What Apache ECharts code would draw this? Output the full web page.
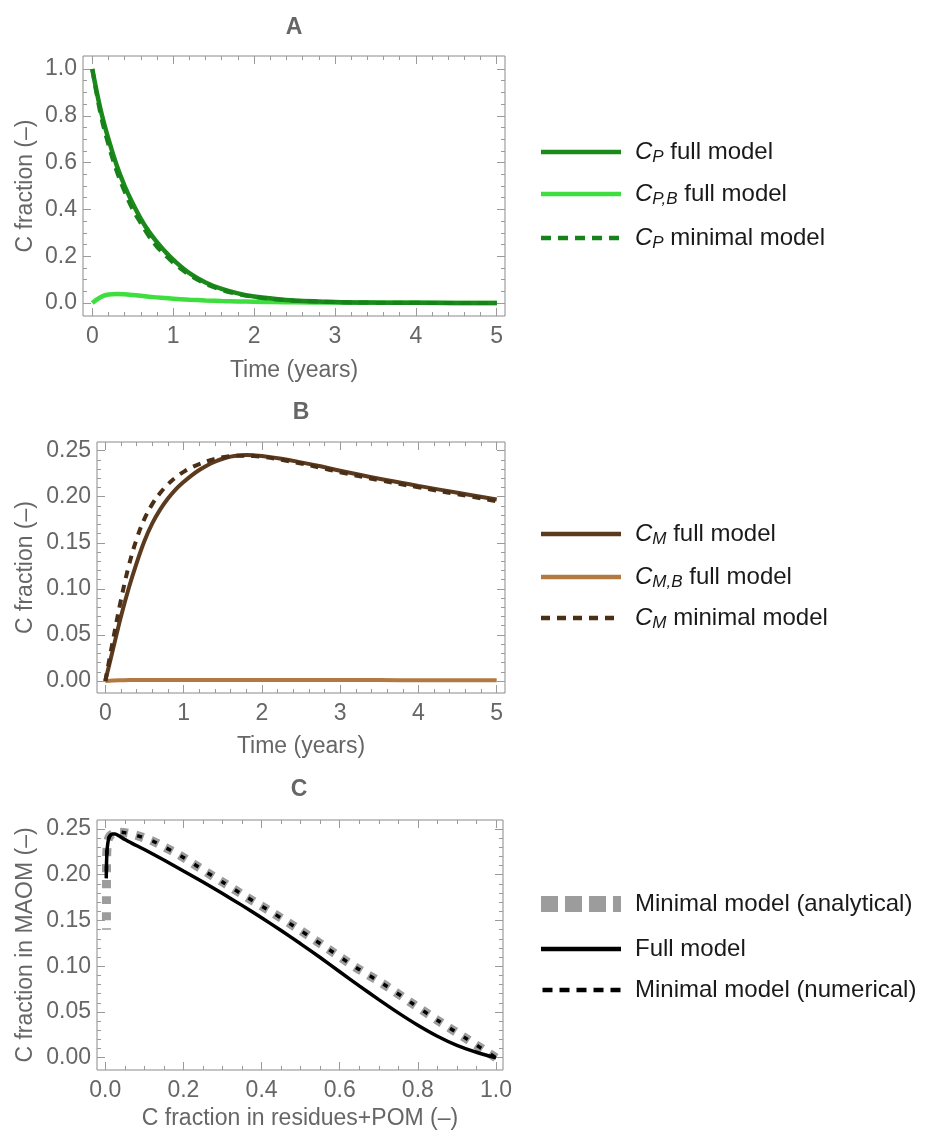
<!DOCTYPE html>
<html><head><meta charset="utf-8">
<script src="https://cdn.jsdelivr.net/npm/echarts@6/dist/echarts.min.js"></script>
<style>html,body{margin:0;padding:0;background:#fff}#c{width:943px;height:1136px}</style>
</head><body><div id="c"></div>
<script>
// ---------- Panel A (time in years) ----------
const timeA   = [0, 0.1, 0.2, 0.3, 0.4, 0.5, 0.6, 0.7, 0.8, 0.9, 1.0, 1.2, 1.4, 1.6, 1.8, 2.0, 2.25, 2.5, 3.0, 3.5, 4.0, 4.5, 5.0];
const cpFull  = [1.0, 0.83, 0.70, 0.59, 0.50, 0.425, 0.36, 0.305, 0.26, 0.22, 0.185, 0.128, 0.088, 0.060, 0.041, 0.028, 0.018, 0.011, 0.0045, 0.0018, 0.0008, 0.0003, 0.0];
const cpbFull = [0, 0.025, 0.036, 0.038, 0.037, 0.034, 0.031, 0.027, 0.024, 0.021, 0.018, 0.014, 0.011, 0.0085, 0.0068, 0.0055, 0.004, 0.003, 0.0017, 0.001, 0.0006, 0.0003, 0.0002];
const cpMin   = [1.0, 0.81, 0.675, 0.565, 0.475, 0.40, 0.34, 0.285, 0.24, 0.205, 0.172, 0.12, 0.082, 0.056, 0.038, 0.026, 0.016, 0.010, 0.004, 0.0015, 0.0006, 0.0002, 0.0];
// ---------- Panel B ----------
const timeB   = [0, 0.1, 0.2, 0.3, 0.4, 0.5, 0.6, 0.7, 0.8, 0.9, 1.0, 1.1, 1.2, 1.3, 1.4, 1.5, 1.6, 1.7, 1.8, 1.9, 2.0, 2.25, 2.5, 2.75, 3.0, 3.5, 4.0, 4.5, 5.0];
const cmFull  = [0, 0.035, 0.070, 0.101, 0.128, 0.152, 0.171, 0.186, 0.198, 0.208, 0.216, 0.2230, 0.2290, 0.2340, 0.2380, 0.2412, 0.2435, 0.2448, 0.2452, 0.2449, 0.2442, 0.2412, 0.2373, 0.2330, 0.2282, 0.2196, 0.2118, 0.2043, 0.1970];
const cmbFull = [0, 0.0005, 0.0008, 0.0010, 0.0011, 0.0012, 0.0012, 0.0012, 0.0012, 0.0012, 0.0012, 0.0012, 0.0012, 0.0011, 0.0011, 0.0011, 0.0011, 0.0011, 0.0011, 0.0011, 0.0011, 0.0010, 0.0010, 0.0010, 0.0010, 0.0010, 0.0009, 0.0009, 0.0009];
const cmMin   = [0, 0.045, 0.088, 0.125, 0.154, 0.176, 0.192, 0.204, 0.2135, 0.221, 0.227, 0.2318, 0.2355, 0.2385, 0.2410, 0.2428, 0.2440, 0.2446, 0.2446, 0.2441, 0.2434, 0.2401, 0.2360, 0.2315, 0.2266, 0.2180, 0.2102, 0.2027, 0.1952];
// ---------- Panel C (C in residues+POM vs C in MAOM) ----------
const cFullX = [1.0, 0.95, 0.9, 0.85, 0.8, 0.75, 0.7, 0.65, 0.6, 0.55, 0.5, 0.45, 0.4, 0.35, 0.3, 0.25, 0.2, 0.15, 0.1, 0.07, 0.05, 0.035, 0.025, 0.018, 0.012, 0.008, 0.005, 0.0035, 0.0028, 0.0025];
const cFullY = [0.0, 0.006, 0.0135, 0.0235, 0.0355, 0.049, 0.0635, 0.0785, 0.094, 0.1095, 0.1245, 0.139, 0.153, 0.1665, 0.1795, 0.192, 0.204, 0.216, 0.2275, 0.234, 0.2385, 0.2425, 0.2445, 0.2445, 0.2425, 0.238, 0.229, 0.217, 0.206, 0.196];
const cNumX  = [1.0, 0.92, 0.85, 0.78, 0.71, 0.64, 0.57, 0.5, 0.43, 0.36, 0.3, 0.26, 0.19, 0.15, 0.12, 0.08, 0.05, 0.035, 0.022, 0.013, 0.008, 0.005, 0.0035, 0.003];
const cNumY  = [0.0, 0.022, 0.041, 0.061, 0.081, 0.099, 0.119, 0.139, 0.158, 0.176, 0.192, 0.2025, 0.2215, 0.2305, 0.237, 0.243, 0.246, 0.2465, 0.2455, 0.243, 0.239, 0.232, 0.22, 0.20];
const cAnaX  = [1.0, 0.92, 0.85, 0.78, 0.71, 0.64, 0.57, 0.5, 0.43, 0.36, 0.3, 0.26, 0.19, 0.15, 0.12, 0.08, 0.05, 0.035, 0.022, 0.013, 0.008, 0.005, 0.0035, 0.003, 0.003, 0.003];
const cAnaY  = [0.0, 0.022, 0.041, 0.061, 0.081, 0.099, 0.119, 0.139, 0.158, 0.176, 0.192, 0.2025, 0.2215, 0.2305, 0.237, 0.243, 0.246, 0.2465, 0.2455, 0.243, 0.239, 0.232, 0.22, 0.20, 0.17, 0.14];
// ---------- Ticks ----------
const timeTicks = [0, 1, 2, 3, 4, 5];
const aYTicks   = [0, 0.2, 0.4, 0.6, 0.8, 1.0];
const bYTicks   = [0, 0.05, 0.10, 0.15, 0.20, 0.25];
const cXTicks   = [0, 0.2, 0.4, 0.6, 0.8, 1.0];
const cYTicks   = [0, 0.05, 0.10, 0.15, 0.20, 0.25];
const panelTitles = ['A', 'B', 'C'];

const FONT = "'Liberation Sans', Arial, sans-serif";
const GRAY = '#666';
const TICK = '#9a9a9a';

function zip(xs, ys) { return xs.map((x, i) => [x, ys[i]]); }
function minors(majors, sub) {
  const out = [];
  const step = (majors[1] - majors[0]) / sub;
  for (let i = 0; i < majors.length - 1; i++)
    for (let k = 1; k < sub; k++) out.push(+(majors[i] + k * step).toFixed(6));
  return out;
}

const grids = [
  { left: 83, top: 56, width: 422, height: 260 },
  { left: 97, top: 442, width: 408, height: 251 },
  { left: 97, top: 820, width: 406, height: 250 }
];
const panels = [
  { xr: [-0.115, 5.102], yr: [-0.0556, 1.0556], xt: timeTicks, yt: aYTicks, xsub: 5, ysub: 4, xd: 0, yd: 1,
    xname: 'Time (years)', yname: 'C fraction (–)', ygap: 46, xNameGap: 43 },
  { xr: [-0.106, 5.106], yr: [-0.013, 0.2594], xt: timeTicks, yt: bYTicks, xsub: 5, ysub: 5, xd: 0, yd: 2,
    xname: 'Time (years)', yname: 'C fraction (–)', ygap: 60, xNameGap: 42 },
  { xr: [-0.0212, 1.0179], yr: [-0.0134, 0.2598], xt: cXTicks, yt: cYTicks, xsub: 4, ysub: 5, xd: 1, yd: 2,
    xname: 'C fraction in residues+POM (–)', yname: 'C fraction in MAOM (–)', ygap: 60, xNameGap: 37 }
];

const xAxes = [], yAxes = [];
panels.forEach((p, g) => {
  const base = (dimRange) => ({
    type: 'value', gridIndex: g, min: dimRange[0], max: dimRange[1],
    axisLine: { show: false, onZero: false }, splitLine: { show: false }
  });
  const tickStyle = (len, vals) => ({ show: true, inside: true, length: len, customValues: vals, lineStyle: { color: TICK, width: 1 } });
  const xm = minors(p.xt, p.xsub), ym = minors(p.yt, p.ysub);
  xAxes.push(Object.assign(base(p.xr), {
    position: 'bottom', axisTick: tickStyle(8, p.xt),
    axisLabel: { show: true, customValues: p.xt, margin: 9, color: GRAY, fontSize: 23, fontFamily: FONT,
      formatter: v => v.toFixed(p.xd) },
    name: p.xname, nameLocation: 'middle', nameGap: p.xNameGap,
    nameTextStyle: { color: GRAY, fontSize: 23, fontFamily: FONT }
  }));
  xAxes.push(Object.assign(base(p.xr), { position: 'bottom', axisTick: tickStyle(4, xm), axisLabel: { show: false } }));
  xAxes.push(Object.assign(base(p.xr), { position: 'top', axisTick: tickStyle(8, p.xt), axisLabel: { show: false } }));
  xAxes.push(Object.assign(base(p.xr), { position: 'top', axisTick: tickStyle(4, xm), axisLabel: { show: false } }));
  yAxes.push(Object.assign(base(p.yr), {
    position: 'left', axisTick: tickStyle(8, p.yt),
    axisLabel: { show: true, customValues: p.yt, margin: 6, color: GRAY, fontSize: 23, fontFamily: FONT,
      formatter: v => v.toFixed(p.yd) },
    name: p.yname, nameLocation: 'middle', nameGap: p.ygap,
    nameTextStyle: { color: GRAY, fontSize: 23, fontFamily: FONT }
  }));
  yAxes.push(Object.assign(base(p.yr), { position: 'left', axisTick: tickStyle(4, ym), axisLabel: { show: false } }));
  yAxes.push(Object.assign(base(p.yr), { position: 'right', axisTick: tickStyle(8, p.yt), axisLabel: { show: false } }));
  yAxes.push(Object.assign(base(p.yr), { position: 'right', axisTick: tickStyle(4, ym), axisLabel: { show: false } }));
});

function line(name, g, data, color, width, type, extra) {
  return Object.assign({
    name, type: 'line', xAxisIndex: g * 4, yAxisIndex: g * 4, data, symbol: 'none', smooth: 0.4,
    lineStyle: { color, width, type: type || 'solid' }, itemStyle: { color }, silent: true, animation: false
  }, extra || {});
}

const COL = {
  cp: '#1b8a1b', cpb: '#3ede3e', cpMin: '#17821a',
  cm: '#5b3a1e', cmb: '#b27a42', cmMin: '#4a2f16',
  ana: '#9c9c9c', full: '#000000', num: '#000000'
};

const series = [
  line('CPB', 0, zip(timeA, cpbFull), COL.cpb, 4.5),
  line('CP', 0, zip(timeA, cpFull), COL.cp, 4.5),
  line('CPmin', 0, zip(timeA, cpMin), COL.cpMin, 4, [10, 7]),
  line('CMB', 1, zip(timeB, cmbFull), COL.cmb, 4),
  line('CM', 1, zip(timeB, cmFull), COL.cm, 4),
  line('CMmin', 1, zip(timeB, cmMin), COL.cmMin, 4, [8, 7]),
  line('Ana', 2, zip(cAnaX, cAnaY), COL.ana, 9, [8, 8], { smooth: 0.25 }),
  line('Full', 2, zip(cFullX, cFullY), COL.full, 3.5, 'solid', { smooth: 0.25 }),
  line('Num', 2, zip(cNumX, cNumY), COL.num, 3.5, [5, 11], { smooth: 0.25, lineStyle: { color: COL.num, width: 3.5, type: [5, 11], dashOffset: -1.5 } })
];

const legendLabels = {
  CP: '{i|C}{s|P} full model',
  CPB: '{i|C}{s|P,B} full model',
  CPmin: '{i|C}{s|P} minimal model',
  CM: '{i|C}{s|M} full model',
  CMB: '{i|C}{s|M,B} full model',
  CMmin: '{i|C}{s|M} minimal model',
  Ana: 'Minimal model (analytical)',
  Full: 'Full model',
  Num: 'Minimal model (numerical)'
};
const legendRows = [
  ['CP', 152, 4.5, 'solid'], ['CPB', 194, 4.5, 'solid'], ['CPmin', 238, 4.5, [10, 7]],
  ['CM', 534, 4.5, 'solid'], ['CMB', 577, 4.5, 'solid'], ['CMmin', 618, 4.5, [9, 7]],
  ['Ana', 904, 16, [17, 7]], ['Full', 949, 4.5, 'solid'], ['Num', 990, 4.5, [10, 7]]
];
const legends = legendRows.map(([name, cy, w, tp]) => ({
  left: 541 - w / 2, top: cy - 14, orient: 'vertical', padding: 0, itemWidth: 80, itemHeight: 16,
  selectedMode: false, data: [name], formatter: n => legendLabels[n],
  lineStyle: { width: w, type: tp },
  itemStyle: { opacity: 0, borderWidth: 0 },
  textStyle: {
    color: '#1a1a1a', fontSize: 24, fontFamily: FONT, lineHeight: 28, padding: [0, 0, 0, 9],
    rich: {
      i: { fontStyle: 'italic', fontSize: 24, fontFamily: FONT, color: '#1a1a1a', lineHeight: 28 },
      s: { fontStyle: 'italic', fontSize: 17, fontFamily: FONT, color: '#1a1a1a', lineHeight: 28, verticalAlign: 'bottom' }
    }
  }
}));

const titleX = [294, 301, 299], titleY = [28, 413, 790];
const graphics = panelTitles.map((t, i) => ({
  type: 'text', x: titleX[i], y: titleY[i], silent: true,
  style: { text: t, x: 0, y: 0, align: 'center', verticalAlign: 'middle', font: 'bold 23px ' + FONT, fill: GRAY }
}));

const chart = echarts.init(document.getElementById('c'), null, { renderer: 'canvas' });
chart.setOption({
  backgroundColor: '#fff',
  animation: false,
  grid: grids.map(g => Object.assign({ show: true, borderColor: '#8a8a8a', borderWidth: 1, backgroundColor: 'transparent', containLabel: false }, g)),
  xAxis: xAxes,
  yAxis: yAxes,
  legend: legends,
  graphic: graphics,
  series
});
</script>
</body></html>
